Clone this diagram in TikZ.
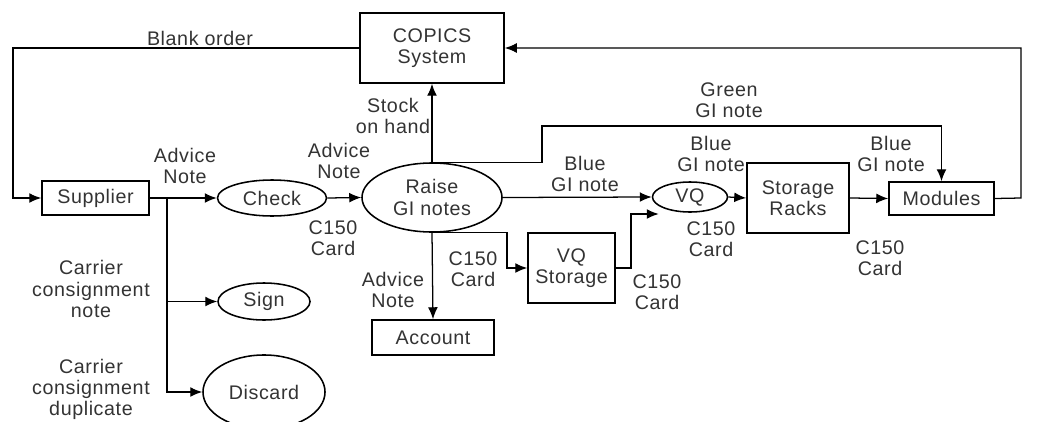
\documentclass[tikz,border=0pt]{standalone}
\usepackage{fontspec}
\setmainfont[LetterSpace=3]{Liberation Sans}
\usetikzlibrary{shapes.geometric, arrows.meta, calc}

\tikzset{
  blk/.style={draw, rectangle, inner sep=0pt, align=center, line width=1.1pt},
  oval/.style={draw, ellipse, inner sep=0pt, align=center, line width=1.1pt},
  lbl/.style={align=center, inner sep=0pt}
}

\begin{document}
\begin{tikzpicture}[>={Latex[length=8.5pt,width=7pt]}, x=0.025cm, y=-0.025cm,
  line width=0.9pt, font=\fontsize{14}{15}\selectfont, text=black!80]

\useasboundingbox (0,0) rectangle (1037,421);

% processes
\node[blk, minimum width=3.6cm, minimum height=1.75cm] (copics) at (432,48) {COPICS\\System};
\node[blk, minimum width=2.675cm, minimum height=0.85cm] (supplier) at (95.5,198) {Supplier};
\node[oval, minimum width=2.725cm, minimum height=0.9cm] (check) at (272,198) {Check};
\node[oval, minimum width=3.5cm, minimum height=1.725cm] (raise) at (432,197.5) {Raise\\GI notes};
\node[oval, minimum width=1.875cm, minimum height=0.75cm] (vq) at (690,197) {VQ};
\node[blk, minimum width=2.55cm, minimum height=1.75cm] (racks) at (798,198) {Storage\\Racks};
\node[blk, minimum width=2.625cm, minimum height=0.825cm] (modules) at (941.5,198.5) {Modules};
\node[blk, minimum width=2.175cm, minimum height=1.75cm] (vqstore) at (571.5,268) {VQ\\Storage};
\node[blk, minimum width=3.05cm, minimum height=0.875cm] (account) at (433,337.5) {Account};
\node[oval, minimum width=2.3cm, minimum height=0.925cm] (sign) at (264,301.5) {Sign};
\node[oval, minimum width=3.05cm, minimum height=1.85cm] (discard) at (264,392) {Discard};

% bends
\coordinate (lft) at (13,198);
\coordinate (rgt) at (1021,198);
\coordinate (br) at (167,198);
\coordinate (grn) at (542,126);
\coordinate (c1) at (507,268);
\coordinate (c2) at (631,214);

% flows
\draw[->] (copics.west) -| (lft) -- (supplier.west);
\draw[->] (modules.east) -- (rgt) |- (copics.east);
\draw[->] (supplier.east) -- (check.west);
\draw[->] (br) |- (sign.west);
\draw[->] (br) |- (discard.west);
\draw[->] (check.east) -- (raise.west);
\draw[->] (raise.north) -- (copics.south);
\draw[->] (raise.north) -| (grn) -| (modules.north);
\draw[->] (raise.east) -- (vq.west);
\draw[->] (raise.south) -- (account.north);
\draw[->] (raise.south) -| (c1) -- (vqstore.west);
\draw[->] (vqstore.east) -| (c2) -- ($(vq.west)+(7,17)$);
\draw[->] (vq.east) -- (racks.west);
\draw[->] (racks.east) -- (modules.west);

% labels
\node[lbl] (lblank) at (200,38) {Blank order};
\node[lbl] (lstock) at (393,116) {Stock\\on hand};
\node[lbl] (ladv1) at (185,166) {Advice\\Note};
\node[lbl] (ladv2) at (339,161) {Advice\\Note};
\node[lbl] (ladv3) at (393,290) {Advice\\Note};
\node[lbl] (lgreen) at (729,100) {Green\\GI note};
\node[lbl] (lblue1) at (585,174) {Blue\\GI note};
\node[lbl] (lblue2) at (711,154) {Blue\\GI note};
\node[lbl] (lblue3) at (891,154) {Blue\\GI note};
\node[lbl] (lcard1) at (333,238) {C150\\Card};
\node[lbl] (lcard2) at (473,269) {C150\\Card};
\node[lbl] (lcard3) at (657,292) {C150\\Card};
\node[lbl] (lcard4) at (711,239) {C150\\Card};
\node[lbl] (lcard5) at (880,258) {C150\\Card};
\node[lbl] (lcarr1) at (91,289) {Carrier\\consignment\\note};
\node[lbl] (lcarr2) at (91,389) {Carrier\\consignment\\duplicate};

\end{tikzpicture}
\end{document}
